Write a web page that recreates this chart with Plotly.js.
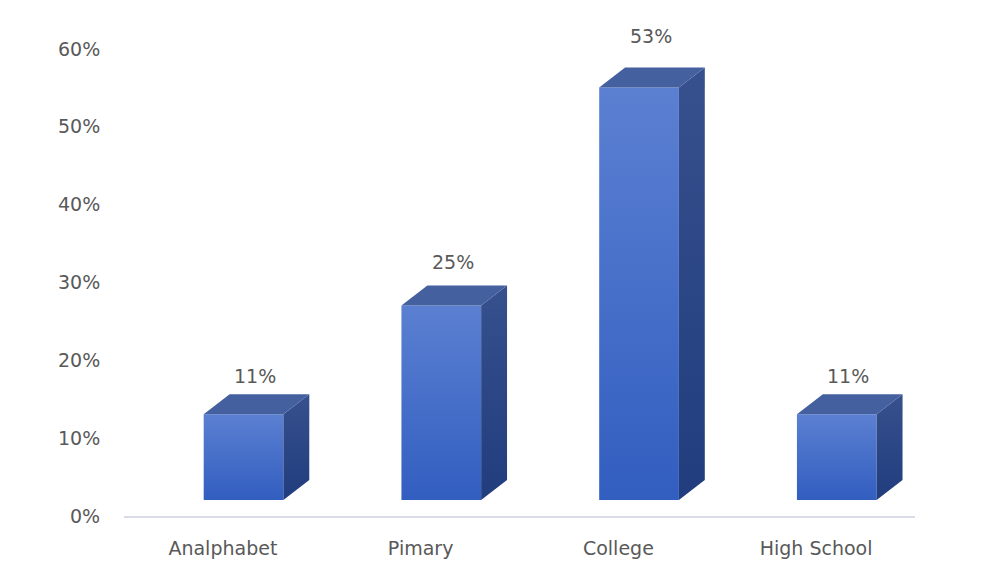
<!DOCTYPE html>
<html><head><meta charset="utf-8">
<script src="https://cdn.plot.ly/plotly-3.0.1.min.js"></script>
<style>html,body{margin:0;padding:0;background:#fff}#chart{width:995px;height:567px}</style>
</head><body><div id="chart"></div>
<script>
// ---- data ----
const categories = ['Analphabet', 'Pimary', 'College', 'High School'];
const values = [11, 25, 53, 11];
const valueLabels = ['11%', '25%', '53%', '11%'];
const yTickValues = [0, 10, 20, 30, 40, 50, 60];
const yTickLabels = ['0%', '10%', '20%', '30%', '40%', '50%', '60%'];

// ---- pseudo-3D styling (in axis units) ----
const FONT = 'DejaVu Sans, Open Sans, sans-serif';
const TXT = '#595959';
const FS = 19;
const Y_MAX = 60;
const lift = 2.06;      // front face floats above the floor
const frontL = -0.097, frontR = 0.306;
const depthX = 0.131, depthY = 2.57;

const traces = [];
categories.forEach((c, i) => {
  const v = values[i];
  const x0 = i + frontL, x1 = i + frontR;
  const b = lift, t = lift + v;
  // front face
  traces.push({
    type: 'scatter', mode: 'lines', hoverinfo: 'skip', showlegend: false,
    x: [x0, x1, x1, x0, x0], y: [b, b, t, t, b],
    fill: 'toself', line: {width: 0},
    fillcolor: '#4670c9',
    fillgradient: {type: 'vertical', start: b, stop: t,
      colorscale: [[0, 'rgb(50,94,192)'], [1, 'rgb(91,128,210)']]}
  });
  // side face
  traces.push({
    type: 'scatter', mode: 'lines', hoverinfo: 'skip', showlegend: false,
    x: [x1, x1 + depthX, x1 + depthX, x1, x1], y: [b, b + depthY, t + depthY, t, b],
    fill: 'toself', line: {width: 0},
    fillcolor: '#2d4a8a',
    fillgradient: {type: 'vertical', start: b, stop: t + depthY,
      colorscale: [[0, 'rgb(33,61,125)'], [1, 'rgb(55,80,142)']]}
  });
  // top face
  traces.push({
    type: 'scatter', mode: 'lines', hoverinfo: 'skip', showlegend: false,
    x: [x0, x1, x1 + depthX, x0 + depthX, x0], y: [t, t, t + depthY, t + depthY, t],
    fill: 'toself', line: {width: 0},
    fillcolor: 'rgb(69,96,158)'
  });
});
// value labels (paper y so that labels above the axis range still show)
const annotations = categories.map((c, i) => ({
  x: i + 0.163, y: (values[i] * 1.04 + 6.6) / Y_MAX, xref: 'x', yref: 'paper',
  text: valueLabels[i], showarrow: false, xanchor: 'center', yanchor: 'middle',
  font: {family: FONT, size: FS, color: TXT}
}));

const layout = {
  width: 995, height: 567,
  margin: {l: 124, r: 80, t: 49, b: 51},
  paper_bgcolor: '#ffffff', plot_bgcolor: '#ffffff',
  showlegend: false,
  font: {family: FONT, size: FS, color: TXT},
  annotations: annotations,
  xaxis: {
    range: [-0.5, 3.5], tickvals: categories.map((c, i) => i), ticktext: categories,
    showgrid: false, zeroline: false, showline: true, linecolor: '#d9dbe6', linewidth: 2,
    ticks: 'outside', ticklen: 14, tickcolor: 'rgba(0,0,0,0)',
    tickfont: {family: FONT, size: FS, color: TXT}, fixedrange: true
  },
  yaxis: {
    range: [0, Y_MAX], tickvals: yTickValues, ticktext: yTickLabels,
    showgrid: false, zeroline: false, showline: false,
    ticks: 'outside', ticklen: 19, tickcolor: 'rgba(0,0,0,0)',
    tickfont: {family: FONT, size: FS, color: TXT}, fixedrange: true
  }
};
Plotly.newPlot('chart', traces, layout, {staticPlot: true, displayModeBar: false});
</script>
</body></html>
